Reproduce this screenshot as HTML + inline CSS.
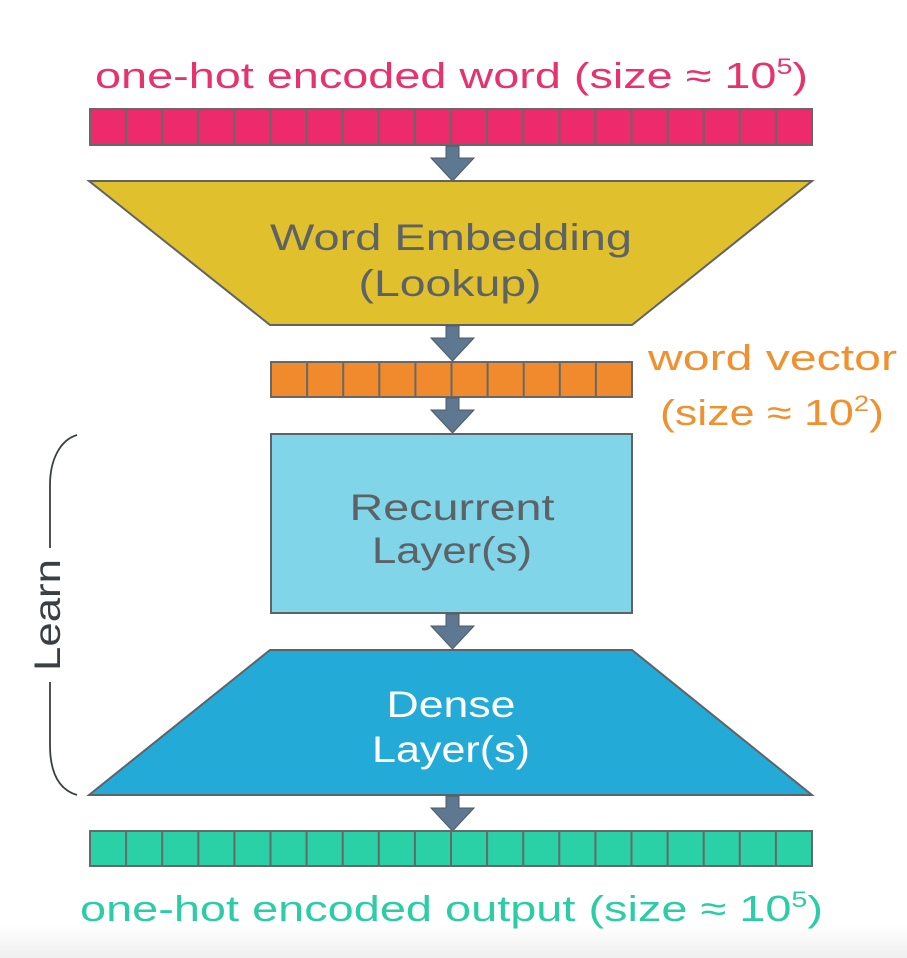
<!DOCTYPE html>
<html><head><meta charset="utf-8"><style>
html,body{margin:0;padding:0;background:#fff;}
svg{display:block;}
text{font-family:"Liberation Sans",sans-serif;}
</style></head><body>
<svg width="907" height="958" viewBox="0 0 907 958" xmlns="http://www.w3.org/2000/svg">
<defs>
<linearGradient id="bg" x1="0" y1="0" x2="0" y2="1">
<stop offset="0" stop-color="#ffffff"/><stop offset="1" stop-color="#efefef"/>
</linearGradient>
<g id="arrow"><polygon points="446,0 459,0 459,12 474,12 452.5,35 431,12 446,12" fill="#5f7892" stroke="#4d5a66" stroke-width="1"/></g>
</defs>
<rect x="0" y="925" width="907" height="33" fill="url(#bg)"/>

<text x="95" y="88" font-size="36" fill="#e6336d" textLength="713" lengthAdjust="spacingAndGlyphs">one-hot encoded word (size ≈ 10<tspan font-size="22" dy="-14">5</tspan><tspan dy="14">)</tspan></text>

<!-- top bar -->
<g stroke="#686868" stroke-width="2" fill="#ec2a6c" id="topbar">
<rect x="90" y="109" width="722" height="36"/>
</g>
<g stroke="#686868" stroke-width="2">
<line x1="126.1" y1="109" x2="126.1" y2="145"/><line x1="162.2" y1="109" x2="162.2" y2="145"/><line x1="198.3" y1="109" x2="198.3" y2="145"/><line x1="234.4" y1="109" x2="234.4" y2="145"/><line x1="270.5" y1="109" x2="270.5" y2="145"/><line x1="306.6" y1="109" x2="306.6" y2="145"/><line x1="342.7" y1="109" x2="342.7" y2="145"/><line x1="378.8" y1="109" x2="378.8" y2="145"/><line x1="414.9" y1="109" x2="414.9" y2="145"/><line x1="451" y1="109" x2="451" y2="145"/><line x1="487.1" y1="109" x2="487.1" y2="145"/><line x1="523.2" y1="109" x2="523.2" y2="145"/><line x1="559.3" y1="109" x2="559.3" y2="145"/><line x1="595.4" y1="109" x2="595.4" y2="145"/><line x1="631.5" y1="109" x2="631.5" y2="145"/><line x1="667.6" y1="109" x2="667.6" y2="145"/><line x1="703.7" y1="109" x2="703.7" y2="145"/><line x1="739.8" y1="109" x2="739.8" y2="145"/><line x1="775.9" y1="109" x2="775.9" y2="145"/>
</g>

<use href="#arrow" transform="translate(0,146)"/>

<!-- embedding trapezoid -->
<polygon points="89,181 812,181 632,325 270,325" fill="#e0c02c" stroke="#5f6366" stroke-width="2"/>
<text x="451" y="250" font-size="37" fill="#5d6266" text-anchor="middle" textLength="362" lengthAdjust="spacingAndGlyphs">Word Embedding</text>
<text x="450" y="296" font-size="37" fill="#5d6266" text-anchor="middle" textLength="183" lengthAdjust="spacingAndGlyphs">(Lookup)</text>

<use href="#arrow" transform="translate(0,326)"/>

<!-- word vector bar -->
<rect x="271" y="362" width="361" height="35" fill="#f08a2c" stroke="#686868" stroke-width="2"/>
<g stroke="#686868" stroke-width="2">
<line x1="307.1" y1="362" x2="307.1" y2="397"/><line x1="343.2" y1="362" x2="343.2" y2="397"/><line x1="379.3" y1="362" x2="379.3" y2="397"/><line x1="415.4" y1="362" x2="415.4" y2="397"/><line x1="451.5" y1="362" x2="451.5" y2="397"/><line x1="487.6" y1="362" x2="487.6" y2="397"/><line x1="523.7" y1="362" x2="523.7" y2="397"/><line x1="559.8" y1="362" x2="559.8" y2="397"/><line x1="595.9" y1="362" x2="595.9" y2="397"/>
</g>
<text x="648" y="370" font-size="36" fill="#f0912f" textLength="249" lengthAdjust="spacingAndGlyphs">word vector</text>
<text x="660" y="425" font-size="36" fill="#f0912f" textLength="224" lengthAdjust="spacingAndGlyphs">(size ≈ 10<tspan font-size="22" dy="-14">2</tspan><tspan dy="14">)</tspan></text>

<use href="#arrow" transform="translate(0,398)"/>

<!-- recurrent -->
<rect x="271" y="434" width="361" height="179" fill="#80d6e8" stroke="#5f6366" stroke-width="2"/>
<text x="452" y="520" font-size="37" fill="#5d6266" text-anchor="middle" textLength="205" lengthAdjust="spacingAndGlyphs">Recurrent</text>
<text x="452" y="563" font-size="37" fill="#5d6266" text-anchor="middle" textLength="160" lengthAdjust="spacingAndGlyphs">Layer(s)</text>

<use href="#arrow" transform="translate(0,614)"/>

<!-- dense -->
<polygon points="270,650 632,650 812,795 89,795" fill="#23aad6" stroke="#5f6366" stroke-width="2"/>
<text x="451" y="717" font-size="37" fill="#ffffff" text-anchor="middle" textLength="129" lengthAdjust="spacingAndGlyphs">Dense</text>
<text x="451" y="762" font-size="37" fill="#ffffff" text-anchor="middle" textLength="158" lengthAdjust="spacingAndGlyphs">Layer(s)</text>

<use href="#arrow" transform="translate(0,796)"/>

<!-- output bar -->
<rect x="90" y="831" width="722" height="35" fill="#2ad0a6" stroke="#686868" stroke-width="2"/>
<g stroke="#686868" stroke-width="2">
<line x1="126.1" y1="831" x2="126.1" y2="866"/><line x1="162.2" y1="831" x2="162.2" y2="866"/><line x1="198.3" y1="831" x2="198.3" y2="866"/><line x1="234.4" y1="831" x2="234.4" y2="866"/><line x1="270.5" y1="831" x2="270.5" y2="866"/><line x1="306.6" y1="831" x2="306.6" y2="866"/><line x1="342.7" y1="831" x2="342.7" y2="866"/><line x1="378.8" y1="831" x2="378.8" y2="866"/><line x1="414.9" y1="831" x2="414.9" y2="866"/><line x1="451" y1="831" x2="451" y2="866"/><line x1="487.1" y1="831" x2="487.1" y2="866"/><line x1="523.2" y1="831" x2="523.2" y2="866"/><line x1="559.3" y1="831" x2="559.3" y2="866"/><line x1="595.4" y1="831" x2="595.4" y2="866"/><line x1="631.5" y1="831" x2="631.5" y2="866"/><line x1="667.6" y1="831" x2="667.6" y2="866"/><line x1="703.7" y1="831" x2="703.7" y2="866"/><line x1="739.8" y1="831" x2="739.8" y2="866"/><line x1="775.9" y1="831" x2="775.9" y2="866"/>
</g>
<text x="80" y="921" font-size="36" fill="#2ccda6" textLength="743" lengthAdjust="spacingAndGlyphs">one-hot encoded output (size ≈ 10<tspan font-size="22" dy="-14">5</tspan><tspan dy="14">)</tspan></text>

<!-- brace -->
<path d="M77,435 C60,440 50,460 50,485 L50,548" fill="none" stroke="#3a3f44" stroke-width="1.8"/>
<path d="M50,682 L50,745 C50,775 60,790 77,795" fill="none" stroke="#3a3f44" stroke-width="1.8"/>
<text transform="translate(60,615) rotate(-90)" font-size="37" fill="#3a3f44" text-anchor="middle" textLength="112" lengthAdjust="spacingAndGlyphs">Learn</text>
</svg>
</body></html>
